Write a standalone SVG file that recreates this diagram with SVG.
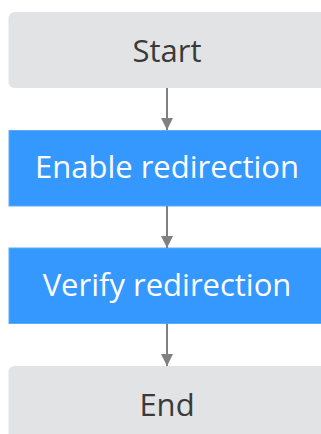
<svg xmlns="http://www.w3.org/2000/svg" width="321" height="434" viewBox="0 0 321 434">
<style>
.term{fill:#e1e3e5;}
.proc{fill:#3498fe;stroke:#5aabfe;stroke-width:1;}
.t{font-family:"Open Sans","Noto Sans",sans-serif;font-size:31px;text-anchor:middle;}
.dark{fill:#3a3a3a;}
.light{fill:#ffffff;}
.conn{stroke:#808080;stroke-width:2;fill:none;marker-end:url(#ah);}
</style>
<defs>
<marker id="ah" viewBox="0 0 12 12" refX="12" refY="6" markerWidth="6" markerHeight="6" markerUnits="strokeWidth" orient="auto">
<path d="M0,0 L12,6 L0,12 z" fill="#808080"/>
</marker>
</defs>
<rect width="321" height="434" fill="#ffffff"/>
<g id="start">
<rect class="term" x="8.5" y="12" width="322" height="76" rx="6"/>
<text class="t dark" x="167" y="62">Start</text>
</g>
<g id="enable">
<rect class="proc" x="9" y="130.5" width="322" height="75.5"/>
<text class="t light" x="167" y="178">Enable redirection</text>
</g>
<g id="verify">
<rect class="proc" x="9" y="248" width="322" height="75.5"/>
<text class="t light" x="167" y="296">Verify redirection</text>
</g>
<g id="end">
<rect class="term" x="8.5" y="366" width="322" height="80" rx="6"/>
<text class="t dark" x="167" y="416">End</text>
</g>
<g id="connectors">
<line class="conn" x1="167" y1="88" x2="167" y2="130"/>
<line class="conn" x1="167" y1="206" x2="167" y2="248"/>
<line class="conn" x1="167" y1="323.5" x2="167" y2="366"/>
</g>
</svg>
